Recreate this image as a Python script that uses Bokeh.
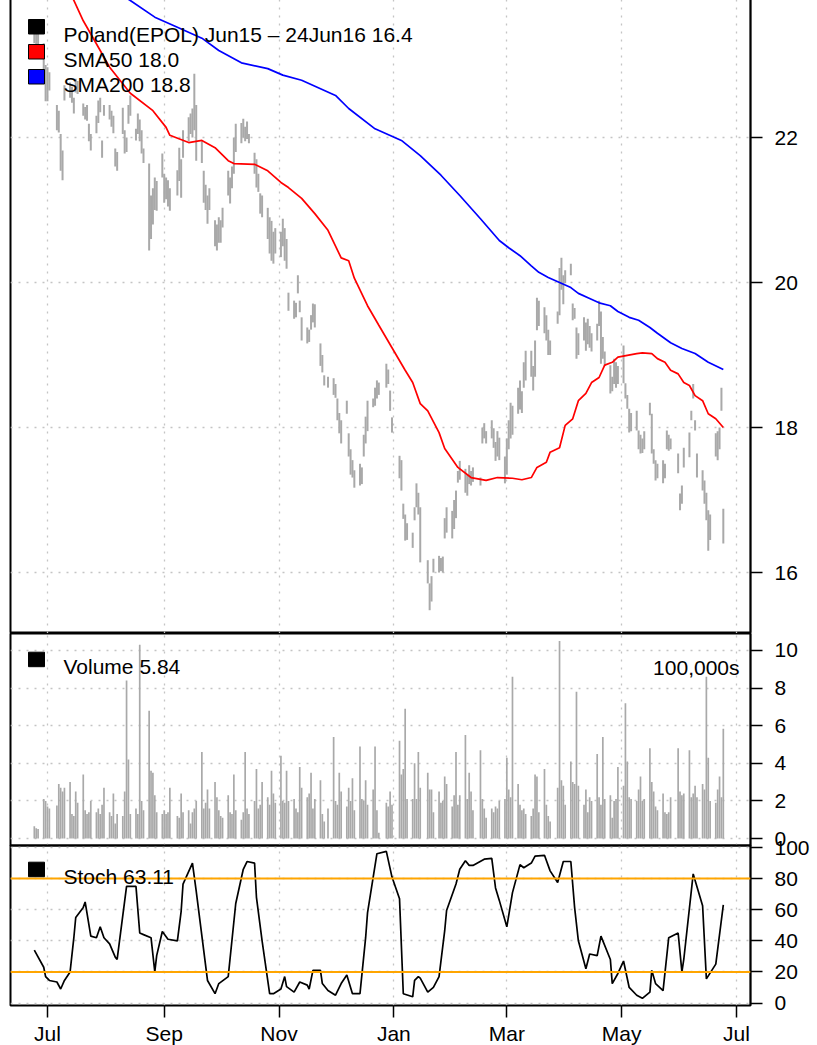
import pandas as pd
from datetime import datetime, timedelta
from bokeh.plotting import figure
from bokeh.layouts import column
from bokeh.models import (ColumnDataSource, Range1d, FixedTicker, DatetimeTickFormatter,
                          Label, BoxAnnotation, Span)
from bokeh.embed import file_html
from bokeh.resources import INLINE

# ---------------- data ----------------
holidays = ["2015-07-03", "2015-09-07", "2015-11-26", "2015-12-25", "2016-01-01",
            "2016-01-18", "2016-02-15", "2016-03-25", "2016-05-30"]

high_jun = [23.55, 23.50, 23.45, 23.30, 23.00]
low_jun = [23.30, 23.25, 23.25, 22.90, 22.50]
high_jul = [22.97, 22.90, 22.45, 22.37, 22.05, 21.82, 22.72, 22.76, 22.70, 22.55, 22.81, 22.78,
            22.47, 22.42, 22.45, 22.19, 22.05, 22.30, 22.51, 22.55, 21.96, 22.45]
low_jul = [22.50, 22.65, 22.10, 22.07, 21.54, 21.41, 22.51, 22.55, 22.48, 22.33, 22.62, 22.60,
           22.30, 22.25, 22.23, 21.95, 21.82, 22.06, 22.20, 22.35, 21.72, 22.30]
high_aug = [22.45, 22.37, 22.30, 21.85, 21.80, 22.41, 22.10, 22.00, 22.45, 22.58, 22.12, 22.33,
            22.25, 22.10, 21.85, 21.64, 21.20, 21.30, 21.45, 21.40, 21.78]
low_aug = [22.25, 22.15, 22.06, 21.60, 21.54, 22.05, 21.78, 21.80, 22.19, 22.30, 21.96, 22.05,
           21.95, 21.78, 21.65, 20.44, 20.60, 20.80, 21.00, 20.99, 21.45]
high_sep = [21.50, 21.45, 21.41, 21.30, 21.55, 21.86, 21.70, 22.10, 22.28, 22.33, 22.40, 22.88,
            22.45, 21.95, 21.54, 21.35, 21.20, 21.30, 20.86, 20.80, 20.90]
low_sep = [21.10, 21.15, 21.05, 20.99, 21.20, 21.40, 21.17, 21.72, 21.95, 22.05, 22.00, 22.10,
           21.68, 21.65, 21.10, 21.00, 20.81, 21.00, 20.50, 20.44, 20.55]
high_oct = [20.86, 21.03, 21.54, 21.45, 21.60, 22.00, 22.19, 22.20, 22.26, 22.15, 22.22, 22.05,
            21.79, 21.70, 21.50, 21.23, 21.20, 21.03, 20.90, 20.85, 20.70, 20.75]
low_oct = [20.55, 20.76, 21.20, 21.09, 21.30, 21.50, 21.80, 21.92, 22.00, 21.95, 21.98, 21.92,
           21.50, 21.31, 21.25, 20.95, 20.90, 20.60, 20.40, 20.30, 20.26, 20.40]
high_nov = [20.70, 20.88, 20.75, 20.60, 19.86, 19.75, 19.72, 20.10, 19.75, 19.52, 19.38, 19.35,
            19.55, 19.71, 19.70, 19.16, 19.00, 18.72, 18.70, 18.68]
low_nov = [20.35, 20.50, 20.30, 20.19, 19.61, 19.50, 19.52, 19.85, 19.59, 19.20, 19.16, 19.18,
           19.35, 19.45, 19.38, 18.85, 18.76, 18.58, 18.55, 18.45]
high_dec = [18.60, 18.40, 18.20, 18.10, 18.37, 17.92, 17.70, 17.55, 17.41, 17.50, 17.45, 17.90,
            18.15, 18.37, 18.40, 18.55, 18.65, 18.62, 18.88, 18.80, 18.51, 18.14]
low_dec = [18.41, 18.10, 17.92, 17.78, 18.19, 17.60, 17.35, 17.31, 17.17, 17.20, 17.22, 17.60,
           17.78, 17.95, 18.28, 18.30, 18.40, 18.45, 18.55, 18.60, 18.23, 17.93]
high_jan = [17.61, 17.55, 16.95, 16.80, 16.68, 16.55, 16.90, 17.23, 17.10, 16.90, 16.17, 15.85,
            15.95, 16.19, 16.23, 16.20, 16.22, 16.75, 16.90]
low_jan = [17.30, 17.13, 16.74, 16.44, 16.45, 16.34, 16.72, 16.90, 16.80, 16.14, 15.85, 15.48,
           15.60, 16.00, 16.00, 16.02, 16.00, 16.47, 16.55]
high_feb = [16.85, 17.00, 17.13, 17.40, 17.54, 17.43, 17.35, 17.48, 17.40, 17.45, 17.31, 18.00,
            18.06, 17.95, 18.10, 17.99, 17.80, 17.95, 17.86, 17.60]
low_feb = [16.47, 16.60, 16.75, 17.24, 17.28, 17.10, 17.06, 17.22, 17.20, 17.25, 17.20, 17.78,
           17.85, 17.78, 17.85, 17.72, 17.54, 17.60, 17.55, 17.23]
high_mar = [17.85, 18.10, 18.34, 18.30, 18.55, 18.65, 18.50, 18.90, 19.06, 19.06, 18.85, 19.20,
            19.79, 19.75, 19.66, 19.55, 19.35, 19.20, 19.60, 20.20, 20.34, 20.10]
low_mar = [17.35, 17.70, 17.85, 17.90, 18.19, 18.25, 18.20, 18.55, 18.65, 18.70, 18.51, 18.70,
           19.34, 19.40, 19.30, 19.20, 19.00, 19.00, 19.43, 19.55, 19.90, 19.70]
high_apr = [20.17, 20.26, 19.71, 19.65, 19.38, 19.30, 19.52, 19.45, 19.50, 19.40, 19.30, 19.43,
            19.75, 19.60, 19.25, 19.05, 18.86, 18.70, 18.95, 18.90, 18.85]
low_apr = [19.99, 20.10, 19.48, 19.50, 18.95, 19.00, 19.20, 19.06, 19.15, 19.10, 19.05, 19.20,
           19.40, 18.88, 18.95, 18.85, 18.47, 18.50, 18.60, 18.55, 18.60]
high_may = [19.13, 18.61, 18.45, 18.26, 18.20, 18.23, 17.96, 17.90, 17.85, 17.95, 18.34, 18.19,
            17.70, 17.55, 17.50, 17.55, 17.50, 17.96, 17.90, 17.85, 17.64]
low_may = [18.61, 18.40, 18.26, 17.93, 17.95, 17.96, 17.70, 17.64, 17.65, 17.70, 18.17, 17.64,
           17.50, 17.27, 17.30, 17.23, 17.30, 17.70, 17.68, 17.70, 17.37]
high_jun16 = [17.09, 17.20, 17.72, 17.93, 18.23, 18.60, 18.10, 17.64, 17.41, 17.27, 17.10, 16.86,
              16.80, 17.92, 17.95, 18.00, 18.55, 16.88]
low_jun16 = [16.86, 16.95, 17.45, 17.59, 18.10, 18.40, 17.96, 17.31, 17.13, 16.95, 16.72, 16.30,
             16.45, 17.60, 17.55, 17.70, 18.23, 16.40]

# volume in 100,000s
vol_jun = [0.65, 0.55, 0.5, 2.1, 2.0]
vol_jul = [1.7, 1.6, 1.75, 2.9, 2.7, 2.5, 2.7, 3.0, 1.3, 1.2, 2.5, 1.9, 3.4, 1.5, 1.3, 1.4, 2.0,
           1.4, 1.6, 1.3, 1.8, 2.7]
vol_aug = [1.4, 1.2, 2.4, 0.8, 1.3, 1.2, 2.5, 8.4, 4.2, 1.3, 1.6, 1.3, 10.3, 2.0, 1.5, 6.8, 3.6,
           3.5, 2.3, 1.4, 1.3]
vol_sep = [1.5, 1.3, 1.4, 2.7, 1.2, 1.1, 2.4, 1.4, 1.5, 0.8, 1.4, 1.6, 2.0, 4.6, 1.6, 1.9, 2.6,
           1.6, 3.0, 2.2, 1.5]
vol_oct = [1.2, 1.1, 2.3, 1.4, 1.3, 3.4, 1.5, 1.0, 1.4, 4.6, 1.6, 1.3, 2.0, 3.7, 1.6, 1.8, 3.0,
           2.2, 1.8, 3.6, 2.4, 1.9]
vol_nov = [4.4, 2.0, 1.9, 3.6, 2.0, 2.1, 1.6, 1.4, 3.8, 2.7, 2.2, 2.4, 3.5, 1.6, 2.1, 3.1, 1.3,
           0.9, 1.6, 5.4]
vol_dec = [2.0, 1.8, 3.5, 2.5, 1.7, 2.7, 2.0, 3.2, 1.5, 4.9, 2.1, 2.0, 3.1, 1.8, 2.6, 4.9, 1.5,
           0.3, 1.9, 1.7, 2.5, 1.8]
vol_jan = [5.2, 3.4, 3.7, 6.9, 2.1, 2.1, 4.0, 2.1, 4.6, 2.7, 3.5, 2.6, 2.6, 1.4, 2.5, 1.9, 2.0,
           3.3, 2.9]
vol_feb = [1.7, 2.3, 4.6, 1.8, 2.3, 5.5, 2.1, 3.5, 2.5, 1.5, 4.7, 2.1, 1.6, 1.1, 1.6, 1.4, 1.7,
           1.6, 2.0, 2.1]
vol_mar = [4.3, 2.6, 2.2, 8.6, 2.9, 1.8, 1.5, 1.6, 1.3, 1.2, 1.6, 3.4, 3.3, 1.4, 3.7, 1.8, 1.2,
           0.9, 2.7, 10.5, 3.1, 2.8]
vol_apr = [1.8, 4.1, 3.0, 2.9, 7.8, 2.8, 1.8, 2.6, 1.4, 2.2, 2.0, 4.5, 2.2, 1.8, 5.4, 2.1, 2.3,
           1.1, 2.0, 2.1, 3.8]
vol_may = [2.8, 7.2, 4.1, 2.2, 2.1, 2.0, 2.6, 3.3, 2.0, 2.1, 4.8, 3.0, 2.5, 1.7, 1.5, 2.4, 1.4,
           1.3, 1.4, 2.2, 4.8]
vol_jun16 = [2.5, 2.3, 2.4, 4.7, 2.2, 2.4, 2.8, 2.2, 2.9, 2.6, 8.6, 4.3, 2.0, 1.9, 2.6, 3.3, 2.2,
             5.84]

sma50_dates = ["2015-06-24", "2015-07-15", "2015-07-20", "2015-07-29", "2015-08-03", "2015-08-14",
               "2015-08-26", "2015-09-02", "2015-09-04", "2015-09-14", "2015-09-21", "2015-09-28",
               "2015-10-05", "2015-10-08", "2015-10-19", "2015-10-26", "2015-11-02", "2015-11-06",
               "2015-11-13", "2015-11-20", "2015-11-27", "2015-12-04", "2015-12-08", "2015-12-11",
               "2015-12-18", "2015-12-24", "2015-12-31", "2016-01-07", "2016-01-11", "2016-01-15",
               "2016-01-19", "2016-01-25", "2016-01-28", "2016-02-04", "2016-02-11", "2016-02-19",
               "2016-02-25", "2016-03-04", "2016-03-09", "2016-03-14", "2016-03-17", "2016-03-22",
               "2016-03-24", "2016-03-29", "2016-04-01", "2016-04-05", "2016-04-08", "2016-04-12",
               "2016-04-15", "2016-04-19", "2016-04-22", "2016-04-26", "2016-04-29", "2016-05-09",
               "2016-05-12", "2016-05-17", "2016-05-20", "2016-05-24", "2016-05-27", "2016-05-31",
               "2016-06-03", "2016-06-06", "2016-06-09", "2016-06-13", "2016-06-16", "2016-06-20",
               "2016-06-24"]
sma50_vals = [24.99, 23.89, 23.61, 23.20, 22.97, 22.61, 22.37, 22.14, 22.03, 21.93, 21.96, 21.86,
              21.68, 21.64, 21.63, 21.54, 21.38, 21.31, 21.16, 20.95, 20.72, 20.34, 20.30, 20.06,
              19.68, 19.41, 19.10, 18.79, 18.62, 18.33, 18.23, 17.93, 17.71, 17.45, 17.31, 17.27,
              17.31, 17.30, 17.28, 17.31, 17.45, 17.52, 17.66, 17.72, 18.03, 18.12, 18.37, 18.47,
              18.62, 18.69, 18.86, 18.90, 18.97, 19.02, 19.03, 19.02, 18.95, 18.90, 18.79, 18.74,
              18.62, 18.58, 18.44, 18.37, 18.19, 18.12, 18.00]

sma200_dates = ["2015-06-24", "2015-07-15", "2015-08-14", "2015-08-27", "2015-09-08", "2015-09-21",
                "2015-09-30", "2015-10-12", "2015-10-26", "2015-11-03", "2015-11-13", "2015-12-01",
                "2015-12-08", "2015-12-22", "2016-01-05", "2016-01-15", "2016-01-26", "2016-02-05",
                "2016-02-16", "2016-02-26", "2016-03-02", "2016-03-08", "2016-03-14", "2016-03-18",
                "2016-03-23", "2016-03-29", "2016-04-04", "2016-04-08", "2016-04-14", "2016-04-19",
                "2016-04-25", "2016-04-29", "2016-05-05", "2016-05-10", "2016-05-16", "2016-05-20",
                "2016-05-27", "2016-06-02", "2016-06-09", "2016-06-16", "2016-06-24"]
sma200_vals = [24.70, 24.37, 23.89, 23.66, 23.52, 23.37, 23.20, 23.03, 22.95, 22.86, 22.79, 22.58,
               22.40, 22.12, 21.96, 21.75, 21.48, 21.20, 20.88, 20.58, 20.48, 20.37, 20.23, 20.14,
               20.07, 20.00, 19.93, 19.85, 19.78, 19.72, 19.68, 19.60, 19.52, 19.48, 19.38, 19.30,
               19.17, 19.09, 19.02, 18.90, 18.80]

stoch_dates = ["2015-06-24", "2015-06-29", "2015-06-30", "2015-07-02", "2015-07-06", "2015-07-08",
               "2015-07-10", "2015-07-13", "2015-07-15", "2015-07-16", "2015-07-20", "2015-07-21",
               "2015-07-24", "2015-07-27", "2015-07-29", "2015-07-31", "2015-08-03", "2015-08-06",
               "2015-08-07", "2015-08-12", "2015-08-17", "2015-08-19", "2015-08-21", "2015-08-25",
               "2015-08-27", "2015-08-28", "2015-08-31", "2015-09-03", "2015-09-08", "2015-09-10",
               "2015-09-11", "2015-09-16", "2015-09-18", "2015-09-24", "2015-09-28", "2015-09-30",
               "2015-10-05", "2015-10-09", "2015-10-13", "2015-10-15", "2015-10-19", "2015-10-20",
               "2015-10-23", "2015-10-27", "2015-10-29", "2015-11-02", "2015-11-04", "2015-11-05",
               "2015-11-09", "2015-11-12", "2015-11-16", "2015-11-17", "2015-11-19", "2015-11-23",
               "2015-11-24", "2015-11-27", "2015-12-01", "2015-12-04", "2015-12-07", "2015-12-10",
               "2015-12-14", "2015-12-17", "2015-12-18", "2015-12-23", "2015-12-28", "2015-12-31",
               "2016-01-04", "2016-01-06", "2016-01-11", "2016-01-12", "2016-01-14", "2016-01-15",
               "2016-01-19", "2016-01-22", "2016-01-25", "2016-01-28", "2016-01-29", "2016-02-03",
               "2016-02-05", "2016-02-08", "2016-02-10", "2016-02-12", "2016-02-18", "2016-02-22",
               "2016-02-24", "2016-02-26", "2016-03-01", "2016-03-04", "2016-03-08", "2016-03-10",
               "2016-03-14", "2016-03-16", "2016-03-21", "2016-03-24", "2016-03-28", "2016-03-31",
               "2016-04-04", "2016-04-06", "2016-04-08", "2016-04-12", "2016-04-14", "2016-04-18",
               "2016-04-20", "2016-04-25", "2016-04-26", "2016-04-29", "2016-05-02", "2016-05-05",
               "2016-05-09", "2016-05-12", "2016-05-16", "2016-05-17", "2016-05-19", "2016-05-23",
               "2016-05-26", "2016-05-31", "2016-06-02", "2016-06-03", "2016-06-08", "2016-06-13",
               "2016-06-15", "2016-06-20", "2016-06-24"]
stoch_vals = [34, 23, 17, 14.5, 13.5, 9, 14.5, 20, 42, 55, 61.5, 65,
              43, 42, 49, 42, 38, 29.5, 28, 75, 75, 45, 44, 42,
              20, 30.5, 46, 41, 40, 59, 76.5, 90, 72, 14.5, 6, 12.5,
              17, 64, 86, 91, 90, 68, 40, 6, 6, 9, 17, 10.5,
              7, 13.5, 11.5, 9, 21, 21, 12.5, 8, 5, 12.5, 18, 6,
              6, 42, 58, 96, 97.5, 81, 67, 6, 4, 14.5, 17, 16,
              7, 10, 17, 46.5, 59.5, 76.5, 86, 91.5, 88.5, 88.5, 92.5, 93,
              74, 66, 49, 71, 89, 87, 90, 94.5, 95, 85, 77.5, 91,
              91, 61.5, 40, 22, 31.5, 30.5, 43, 28, 12.5, 19, 27, 10,
              5, 3, 7, 21, 12.5, 8, 42, 45, 20, 28, 83, 62.5,
              15.5, 25, 63.11]
stoch_levels = [20, 80]

price_ticks = [16, 18, 20, 22]
volume_ticks = [0, 2, 4, 6, 8, 10]
stoch_ticks = [0, 20, 40, 60, 80, 100]
month_ticks = ["2015-07-01", "2015-09-01", "2015-11-01", "2016-01-01", "2016-03-01",
               "2016-05-01", "2016-07-01"]

legend_price = ["Poland(EPOL) Jun15 \u2013 24Jun16 16.4", "SMA50 18.0", "SMA200 18.8"]
legend_price_colors = ["black", "red", "blue"]

# ---------------- assemble ----------------
dates = pd.bdate_range("2015-06-24", "2016-06-24")
dates = dates[~dates.isin(pd.to_datetime(holidays))]
highs = (high_jun + high_jul + high_aug + high_sep + high_oct + high_nov + high_dec + high_jan
         + high_feb + high_mar + high_apr + high_may + high_jun16)
lows = (low_jun + low_jul + low_aug + low_sep + low_oct + low_nov + low_dec + low_jan
        + low_feb + low_mar + low_apr + low_may + low_jun16)
volume = (vol_jun + vol_jul + vol_aug + vol_sep + vol_oct + vol_nov + vol_dec + vol_jan
          + vol_feb + vol_mar + vol_apr + vol_may + vol_jun16)
n = min(len(dates), len(highs), len(lows), len(volume))
src = ColumnDataSource(dict(date=list(dates[:n]), high=highs[:n], low=lows[:n], vol=volume[:n]))

FONT = "Liberation Sans"
FS = "21px"
GRAY = "#a9a9a9"
FRAME_W = 740
OVER = 14  # extra canvas above/below panel joins so edge tick labels are not clipped
TOP_HIDE = 2  # the price panel's top edge sits just above the page, as in the reference

x_start = datetime(2015, 7, 1) - timedelta(days=19.65)
x_end = datetime(2016, 7, 1) + timedelta(days=7.44)
xr = Range1d(x_start, x_end)
mt = [pd.Timestamp(d).timestamp() * 1000 for d in month_ticks]


def panel(h, y0, y1, yticks, bottom=False, top_pad=0, bottom_pad=0):
    p = figure(frame_width=FRAME_W, frame_height=h, x_range=xr, y_range=Range1d(y0, y1),
               x_axis_type="datetime", x_axis_location=("below" if bottom else None),
               y_axis_location="right", output_backend="svg", toolbar_location=None,
               min_border_left=10, min_border_right=2, min_border_top=top_pad,
               min_border_bottom=bottom_pad,
               background_fill_color=None, border_fill_color=None)
    p.outline_line_color = "black"
    p.outline_line_width = 2
    p.outline_line_alpha = 1
    ya = p.yaxis[0]
    ya.ticker = FixedTicker(ticks=yticks)
    ya.major_tick_out = 12
    ya.major_tick_in = 0
    ya.minor_tick_out = 0
    ya.minor_tick_in = 0
    ya.major_tick_line_width = 1.5
    ya.axis_line_width = 1.5
    ya.major_label_standoff = 12
    ya.major_label_text_font = FONT
    ya.major_label_text_font_size = FS
    ya.major_label_text_color = "black"
    p.ygrid.ticker = FixedTicker(ticks=yticks)
    p.xgrid.ticker = FixedTicker(ticks=mt)
    for g in (p.xgrid[0], p.ygrid[0]):
        g.grid_line_color = "#c4c4c4"
        g.grid_line_dash = "2 6"
        g.grid_line_width = 1.3
    if bottom:
        xa = p.xaxis[0]
        xa.ticker = FixedTicker(ticks=mt)
        fmt = "%b"
        xa.formatter = DatetimeTickFormatter(days=fmt, months=fmt, years=fmt, hours=fmt,
                                             hourmin=fmt, minutes=fmt, minsec=fmt, seconds=fmt,
                                             milliseconds=fmt, microseconds=fmt)
        xa.major_tick_out = 12
        xa.major_tick_in = 0
        xa.minor_tick_out = 0
        xa.minor_tick_in = 0
        xa.major_tick_line_width = 1.5
        xa.axis_line_color = None
        xa.major_label_standoff = 4
        xa.major_label_text_font = FONT
        xa.major_label_text_font_size = FS
        xa.major_label_text_color = "black"
    return p


def key(p, h, top_from_top, text, color, text_x=53):
    # legend square + text, positioned in frame pixels (screen y measured from frame bottom)
    top = h - top_from_top
    p.add_layout(BoxAnnotation(left=18, right=34, top=top, bottom=top - 14.5,
                               left_units="screen", right_units="screen",
                               top_units="screen", bottom_units="screen",
                               fill_color=color, fill_alpha=1, line_color="black", line_width=1,
                               line_alpha=1))
    p.add_layout(Label(x=text_x, y=top - 14.5, x_units="screen", y_units="screen", text=text,
                       text_font=FONT, text_font_size=FS, text_baseline="alphabetic",
                       text_color="black"))


# price panel
PH = 633 + TOP_HIDE
p1 = panel(PH, 15.159, 22 + (137 + TOP_HIDE) / 72.5, price_ticks)
p1.margin = (-TOP_HIDE, 0, 0, 0)
p1.segment(x0="date", y0="low", x1="date", y1="high", source=src, line_color=GRAY, line_width=2)
p1.line(pd.to_datetime(sma50_dates), sma50_vals, line_color="red", line_width=1.7)
p1.line(pd.to_datetime(sma200_dates), sma200_vals, line_color="blue", line_width=1.7)
for i, (t, c) in enumerate(zip(legend_price, legend_price_colors)):
    key(p1, PH, TOP_HIDE + 19 + 25 * i, t, c)

# volume panel
VH = 212
p2 = panel(VH, -0.372, 10.904, volume_ticks, bottom_pad=OVER)
p2.vbar(x="date", top="vol", bottom=0, width=0.9 * 86400000, source=src,
        fill_color=GRAY, line_color=None)
key(p2, VH, 18.7, "Volume 5.84", "black")
p2.add_layout(Label(x=729, y=VH - 33.7, x_units="screen", y_units="screen", text="100,000s",
                    text_font=FONT, text_font_size=FS, text_baseline="alphabetic",
                    text_align="right", text_color="black"))

# stochastic panel
SH = 160
p3 = panel(SH, -1.6, 101.3, stoch_ticks, bottom=True, top_pad=OVER)
p3.margin = (-2 * OVER, 0, 0, 0)
for lv in stoch_levels:
    p3.add_layout(Span(location=lv, dimension="width", line_color="orange", line_width=2))
p3.line(pd.to_datetime(stoch_dates), stoch_vals, line_color="black", line_width=1.7)
key(p3, SH, 16.7, "Stoch 63.11", "black")

layout = column(p1, p2, p3, spacing=0)
open("out.html", "w").write(file_html(layout, INLINE))
